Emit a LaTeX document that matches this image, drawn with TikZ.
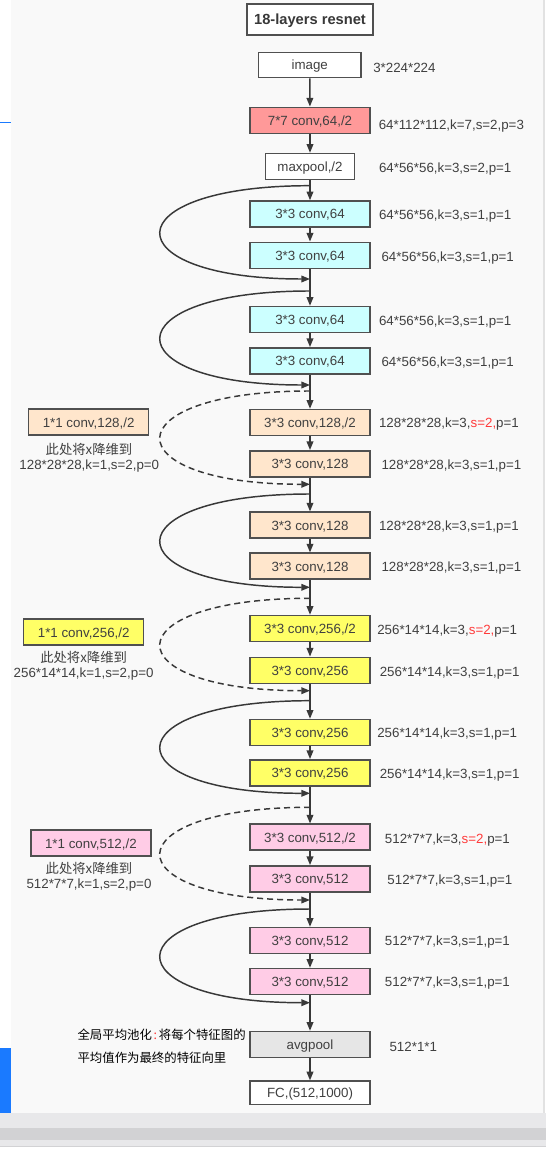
\documentclass[tikz,border=0pt]{standalone}
\usepackage{fontspec}
\setmainfont{Liberation Sans}
\newfontfamily\cjk{Noto Sans CJK SC}
\usetikzlibrary{arrows.meta}
\definecolor{panelgray}{HTML}{F9F9F9}
\definecolor{edgegray}{HTML}{505050}
\definecolor{linegray}{HTML}{383838}
\definecolor{txtgray}{HTML}{404040}
\definecolor{stemred}{HTML}{FF9999}
\definecolor{cyanfill}{HTML}{CCFFFF}
\definecolor{peachfill}{HTML}{FFE6CC}
\definecolor{yellowfill}{HTML}{FFFF66}
\definecolor{pinkfill}{HTML}{FFCCE6}
\definecolor{poolfill}{HTML}{E6E6E6}
\definecolor{stridered}{HTML}{FF3B3B}
\definecolor{tabblue}{HTML}{1A7AFF}
\definecolor{bandlight}{HTML}{E8E8EA}
\definecolor{banddark}{HTML}{D2D2D4}
\definecolor{scrollgray}{HTML}{E2E2E2}
\begin{document}
\begin{tikzpicture}[x=0.75pt,y=-0.75pt,font=\fontsize{10}{12}\selectfont,
  layer/.style={draw=edgegray,line width=1.1pt,minimum width=90pt,minimum height=19.5pt,inner sep=0pt,
    text height=8pt,text depth=0.8pt,text=txtgray},
  whitelayer/.style={layer,fill=white},
  stemlayer/.style={layer,fill=stemred},
  cyanlayer/.style={layer,fill=cyanfill},
  peachlayer/.style={layer,fill=peachfill},
  yellowlayer/.style={layer,fill=yellowfill},
  pinklayer/.style={layer,fill=pinkfill},
  dims/.style={anchor=west,inner sep=0pt,text=txtgray},
  sidenote/.style={inner sep=0pt,text=txtgray},
  flow/.style={draw=linegray,line width=1.1pt,-{Triangle[length=6.5pt,width=5pt]}},
  shortcut/.style={flow,dash pattern=on 4.5pt off 3pt}]
\useasboundingbox (0,0) rectangle (546,1151);
\fill[white] (0,0) rectangle (546,1151);
\fill[panelgray] (11,0) rectangle (543.3,1112.7);
\fill[scrollgray] (543.3,0) rectangle (544.8,1112.7);
\fill[bandlight] (0,1112.7) rectangle (546,1128);
\fill[banddark] (0,1128) rectangle (546,1140);
\fill[bandlight] (0,1140) rectangle (546,1146);
\fill[banddark] (0,1146) rectangle (546,1147);
\fill[tabblue] (0,122) rectangle (10.5,123.5);
\fill[tabblue] (0,1047.7) rectangle (10.5,1112.7);

\node[draw=edgegray,line width=1.5pt,fill=white,minimum width=95pt,minimum height=23pt,inner sep=0pt,
  text height=8.5pt,text depth=1pt,font=\fontsize{11}{13}\selectfont\bfseries,text=linegray] (title) at (310,19.7) {18-layers resnet};
\node[whitelayer,minimum width=77pt,minimum height=19pt] (image) at (309.7,65) {image};
\node[stemlayer] (conv1) at (310,120.3) {7*7 conv,64,/2};
\node[whitelayer,minimum width=67pt] (pool) at (310,166.5) {maxpool,/2};
\node[cyanlayer] (c64a) at (310,214) {3*3 conv,64};
\node[cyanlayer] (c64b) at (310,255.3) {3*3 conv,64};
\node[cyanlayer] (c64c) at (310,319.5) {3*3 conv,64};
\node[cyanlayer] (c64d) at (310,360.8) {3*3 conv,64};
\node[peachlayer] (c128a) at (310,422.5) {3*3 conv,128,/2};
\node[peachlayer] (c128b) at (310,463.8) {3*3 conv,128};
\node[peachlayer] (c128c) at (310,525.2) {3*3 conv,128};
\node[peachlayer] (c128d) at (310,566.2) {3*3 conv,128};
\node[yellowlayer] (c256a) at (310,628.5) {3*3 conv,256,/2};
\node[yellowlayer] (c256b) at (310,670.3) {3*3 conv,256};
\node[yellowlayer] (c256c) at (310,732.5) {3*3 conv,256};
\node[yellowlayer] (c256d) at (310,772.8) {3*3 conv,256};
\node[pinklayer] (c512a) at (310,837.2) {3*3 conv,512,/2};
\node[pinklayer] (c512b) at (310,878.8) {3*3 conv,512};
\node[pinklayer] (c512c) at (310,940.5) {3*3 conv,512};
\node[pinklayer] (c512d) at (310,981.5) {3*3 conv,512};
\node[layer,fill=poolfill] (avg) at (310,1044.5) {avgpool};
\node[whitelayer,minimum height=17.5pt] (fc) at (310,1092.8) {FC,(512,1000)};

\node[dims] (dimimage) at (373,68) {3*224*224};
\node[dims] (dimconv1) at (378.5,126) {64*112*112,k=7,s=2,p=3};
\node[dims] (dimpool) at (378.8,169) {64*56*56,k=3,s=2,p=1};
\node[dims] (dim64a) at (378.8,216) {64*56*56,k=3,s=1,p=1};
\node[dims] (dim64b) at (381.3,257.7) {64*56*56,k=3,s=1,p=1};
\node[dims] (dim64c) at (378.8,321.7) {64*56*56,k=3,s=1,p=1};
\node[dims] (dim64d) at (381.3,362.7) {64*56*56,k=3,s=1,p=1};
\node[dims] (dim128a) at (378.8,424.3) {128*28*28,k=3,\textcolor{stridered}{s=2,}p=1};
\node[dims] (dim128b) at (381.3,466) {128*28*28,k=3,s=1,p=1};
\node[dims] (dim128c) at (378.8,526.7) {128*28*28,k=3,s=1,p=1};
\node[dims] (dim128d) at (381.3,568.3) {128*28*28,k=3,s=1,p=1};
\node[dims] (dim256a) at (377,631) {256*14*14,k=3,\textcolor{stridered}{s=2,}p=1};
\node[dims] (dim256b) at (379.5,672.7) {256*14*14,k=3,s=1,p=1};
\node[dims] (dim256c) at (377,734) {256*14*14,k=3,s=1,p=1};
\node[dims] (dim256d) at (379.5,775) {256*14*14,k=3,s=1,p=1};
\node[dims] (dim512a) at (384.7,840) {512*7*7,k=3,\textcolor{stridered}{s=2,}p=1};
\node[dims] (dim512b) at (387.2,881) {512*7*7,k=3,s=1,p=1};
\node[dims] (dim512c) at (384.7,942.3) {512*7*7,k=3,s=1,p=1};
\node[dims] (dim512d) at (384.7,983.3) {512*7*7,k=3,s=1,p=1};
\node[dims] (dimavg) at (389.3,1046.7) {512*1*1};

\node[peachlayer] (down128) at (88.6,422.2) {1*1 conv,128,/2};
\node[sidenote,font=\cjk\fontsize{10}{12}\selectfont] (why128) at (89,449) {此处将x降维到};
\node[sidenote] (size128) at (89.3,466) {128*28*28,k=1,s=2,p=0};
\node[yellowlayer] (down256) at (83.7,632.2) {1*1 conv,256,/2};
\node[sidenote,font=\cjk\fontsize{10}{12}\selectfont] (why256) at (83.6,657.3) {此处将x降维到};
\node[sidenote] (size256) at (83.6,674) {256*14*14,k=1,s=2,p=0};
\node[pinklayer] (down512) at (90.9,843.2) {1*1 conv,512,/2};
\node[sidenote,font=\cjk\fontsize{10}{12}\selectfont] (why512) at (89,868.7) {此处将x降维到};
\node[sidenote] (size512) at (89,885) {512*7*7,k=1,s=2,p=0};

\node[anchor=west,inner sep=0pt,font=\cjk\fontsize{9.3}{12}\selectfont] (gapnote1) at (77.3,1034.3) {全局平均池化\hspace{1.3pt}\textcolor{stridered}{:}\hspace{1.3pt}将每个特征图的};
\node[anchor=west,inner sep=0pt,font=\cjk\fontsize{9.3}{12}\selectfont] (gapnote2) at (77.3,1057.3) {平均值作为最终的特征向里};

\draw[flow] (image) -- (conv1);
\draw[flow] (conv1) -- (pool);
\draw[flow] (pool) -- (c64a);
\draw[flow] (c64a) -- (c64b);
\draw[flow] (c64b) -- (c64c);
\draw[flow] (c64c) -- (c64d);
\draw[flow] (c64d) -- (c128a);
\draw[flow] (c128a) -- (c128b);
\draw[flow] (c128b) -- (c128c);
\draw[flow] (c128c) -- (c128d);
\draw[flow] (c128d) -- (c256a);
\draw[flow] (c256a) -- (c256b);
\draw[flow] (c256b) -- (c256c);
\draw[flow] (c256c) -- (c256d);
\draw[flow] (c256d) -- (c512a);
\draw[flow] (c512a) -- (c512b);
\draw[flow] (c512b) -- (c512c);
\draw[flow] (c512c) -- (c512d);
\draw[flow] (c512d) -- (avg);
\draw[flow] (avg) -- (fc);

\coordinate (out1) at (310,185.7);  \coordinate (in1) at (310,279);
\coordinate (out2) at (310,291);    \coordinate (in2) at (310,385);
\coordinate (out3) at (310,391);    \coordinate (in3) at (310,484.3);
\coordinate (out4) at (310,494);    \coordinate (in4) at (310,587.3);
\coordinate (out5) at (310,598.3);  \coordinate (in5) at (310,690.7);
\coordinate (out6) at (310,700.7);  \coordinate (in6) at (310,793.3);
\coordinate (out7) at (310,807.3);  \coordinate (in7) at (310,900);
\coordinate (out8) at (310,909);    \coordinate (in8) at (310,1002.7);
\draw[flow] (out1) .. controls (111,185.7) and (111,279) .. (in1);
\draw[flow] (out2) .. controls (111,291) and (111,385) .. (in2);
\draw[shortcut] (out3) .. controls (111,391) and (111,484.3) .. (in3);
\draw[flow] (out4) .. controls (111,494) and (111,587.3) .. (in4);
\draw[shortcut] (out5) .. controls (111,598.3) and (111,690.7) .. (in5);
\draw[flow] (out6) .. controls (111,700.7) and (111,793.3) .. (in6);
\draw[shortcut] (out7) .. controls (111,807.3) and (111,900) .. (in7);
\draw[flow] (out8) .. controls (111,909) and (111,1002.7) .. (in8);
\end{tikzpicture}
\end{document}
